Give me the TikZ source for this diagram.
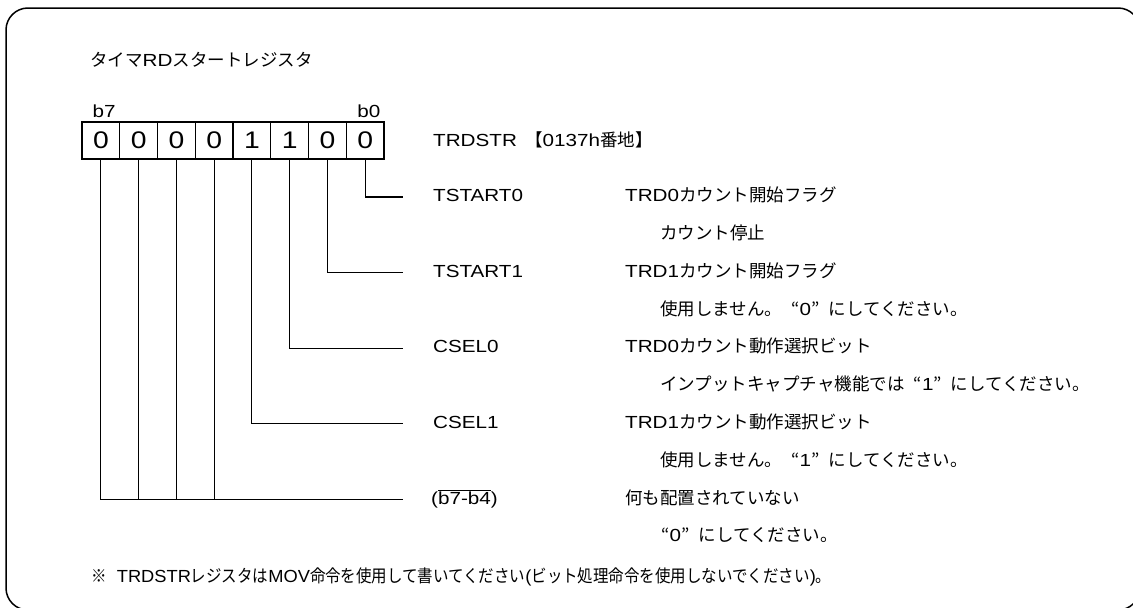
\documentclass[tikz,border=0pt]{standalone}
\usepackage{fontspec}
\setmainfont{Liberation Sans}[FakeStretch=1.18]
\newfontfamily\jp{Noto Sans CJK JP}
\newcommand\jq[1]{{\jp\makebox[1em][r]{“}}#1{\jp\makebox[1em][l]{”}}}
\usetikzlibrary{positioning}

\begin{document}
\begin{tikzpicture}[
  x=1pt, y=-1pt,
  font=\fontsize{17.5}{20}\selectfont,
  bitcell/.style={
    draw,
    line width=1.2pt,
    minimum width=37.75pt,
    minimum height=37pt,
    inner sep=0pt,
    font=\fontsize{24}{26}\selectfont
  },
  wire/.style={line width=1.2pt},
  txt/.style={anchor=base west, inner sep=0pt}
]
\useasboundingbox (0,0) rectangle (1133,608);
\draw[line width=1.5pt, rounded corners=22pt] (6,8) rectangle (1140,610);

\node[txt] (title) at (90,66) {{\jp タイマ}RD{\jp スタートレジスタ}};

% register bits, b7 on the left
\foreach \v [count=\i from 0] in {0,0,0,0,1,1,0,0} {
  \pgfmathtruncatemacro{\n}{7-\i}
  \node[bitcell] (c\n) at ({82+37.75*(\i+0.5)},140.5) {\v};
}
\node[txt] (b7) at ([xshift=11pt, yshift=4pt]c7.north west) {b7};
\node[txt, anchor=base east] (b0) at ([xshift=-4pt, yshift=4pt]c0.north east) {b0};

\node[txt] (reg) at (433,146) {TRDSTR};
\node[txt] (addr) at (525,146) {{\jp 【}0137h{\jp 番地】}};

% bit lines
\foreach \n/\y in {0/197, 1/272.6, 2/348.2, 3/423.8} {
  \coordinate (e\n) at (403,\y);
  \draw[wire] (c\n.south) |- (e\n);
}
\coordinate (e4) at (403,499.4);
\draw[wire] (c7.south) |- (e4);
\foreach \n in {6,5,4}
  \draw[wire] (c\n.south) -- (c\n.south |- e4);

% field names and descriptions
\node[txt] (f0) at (433,201.7) {TSTART0};
\node[txt] (d0) at (625,201.7) {TRD0{\jp カウント開始フラグ}};
\node[txt] (s0) at (660,239.5) {\jp カウント停止};

\node[txt] (f1) at (433,277.3) {TSTART1};
\node[txt] (d1) at (625,277.3) {TRD1{\jp カウント開始フラグ}};
\node[txt] (s1) at (660,315.1) {{\jp 使用しません。}\jq{0}{\jp にしてください。}};

\node[txt] (f2) at (433,352.9) {CSEL0};
\node[txt] (d2) at (625,352.9) {TRD0{\jp カウント動作選択ビット}};
\node[txt] (s2) at (660,390.7) {{\jp インプットキャプチャ機能では}\jq{1}{\jp にしてください。}};

\node[txt] (f3) at (433,428.5) {CSEL1};
\node[txt] (d3) at (625,428.5) {TRD1{\jp カウント動作選択ビット}};
\node[txt] (s3) at (660,466.3) {{\jp 使用しません。}\jq{1}{\jp にしてください。}};

\node[txt] (f4) at (431,504.1) {(\(\overline{\hbox{b7-b4}}\))};
\node[txt] (d4) at (625,504.1) {\jp 何も配置されていない};
\node[txt] (s4) at (652,541.9) {\jq{0}{\jp にしてください。}};

% note
\node[txt] (note) at (91,582) {\scalebox{0.885}[1]{{\jp ※}\ \ TRDSTR{\jp レジスタは}MOV{\jp 命令を使用して書いてください}(%
  {\jp ビット処理命令を使用しないでください}){\jp 。}}};
\end{tikzpicture}
\end{document}
